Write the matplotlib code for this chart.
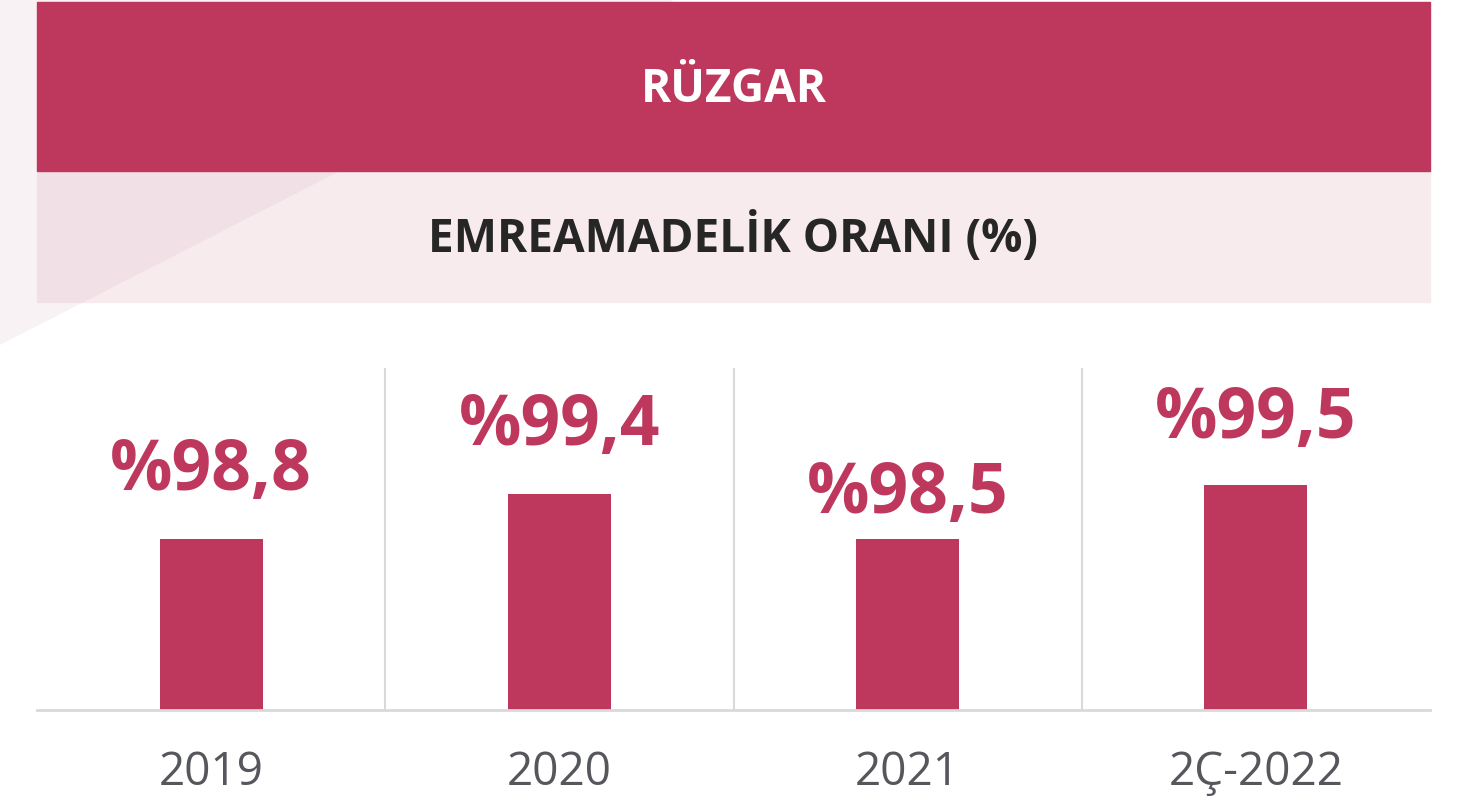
import matplotlib.pyplot as plt
from matplotlib.patches import Rectangle, Polygon

categories = ["2019", "2020", "2021", "2Ç-2022"]
values = [98.8, 99.4, 98.5, 99.5]
# bar heights as drawn in the source graphic (2019 and 2021 bars look equal there)
bar_heights = [98.9, 99.4, 98.9, 99.5]
value_labels = ["%98,8", "%99,4", "%98,5", "%99,5"]

title = "RÜZGAR"
subtitle = "EMREAMADELİK ORANI (%)"

CRIMSON = "#BE385D"
plt.rcParams["font.family"] = ["Open Sans", "DejaVu Sans"]

W, H = 1458, 806
fig = plt.figure(figsize=(W / 100, H / 100), dpi=100)

def fx(px):
    return px / W

def fy(py):
    return 1 - py / H

# background bands
fig.patches.append(Rectangle((fx(37), fy(302)), fx(1393), (302 - 171) / H,
                             transform=fig.transFigure, color="#F7EBEE", zorder=0))
fig.patches.append(Polygon([(0, 1), (fx(674), 1), (0, fy(345))], closed=True,
                           transform=fig.transFigure, color="#C387A5", alpha=0.1,
                           lw=0, zorder=1))
fig.patches.append(Rectangle((fx(37), fy(171)), fx(1393), (171 - 2) / H,
                             transform=fig.transFigure, color=CRIMSON, zorder=2))

fig.text(fx(734), fy(89), title, color="white", fontsize=33, fontweight="bold",
         ha="center", va="center", zorder=3)
fig.text(fx(733), fy(237), subtitle, color="#262626", fontsize=33, fontweight="bold",
         ha="center", va="center", zorder=3)

ax = fig.add_axes([fx(37), fy(710), fx(1393), (710 - 368) / H])
ax.set_facecolor("none")
x = range(len(categories))
ax.bar(x, bar_heights, width=0.296, color=CRIMSON, bottom=0, zorder=2)
ax.set_xlim(-0.5, len(categories) - 0.5)
ax.set_ylim(97.0, 97.0 + 342 / 90)

for sep in [0.5, 1.5, 2.5]:
    ax.axvline(sep, color="#D9D9D9", lw=1.5, zorder=1)

for s in ["top", "left", "right"]:
    ax.spines[s].set_visible(False)
ax.spines["bottom"].set_color("#D9D9D9")
ax.spines["bottom"].set_linewidth(2)
ax.set_yticks([])
ax.set_xticks(list(x))
ax.set_xticklabels(categories, fontsize=33, color="#55575C")
ax.tick_params(axis="x", length=0, pad=29)

# value labels sit at heights following the real values
ax2 = ax.twinx()
ax2.set_ylim(95.54, 100.07)
ax2.axis("off")
for i, (v, lab) in enumerate(zip(values, value_labels)):
    ax2.text(i, v, lab, color=CRIMSON, fontsize=50, fontweight="bold",
             ha="center", va="center_baseline")

fig.savefig("out.png", dpi=100)
